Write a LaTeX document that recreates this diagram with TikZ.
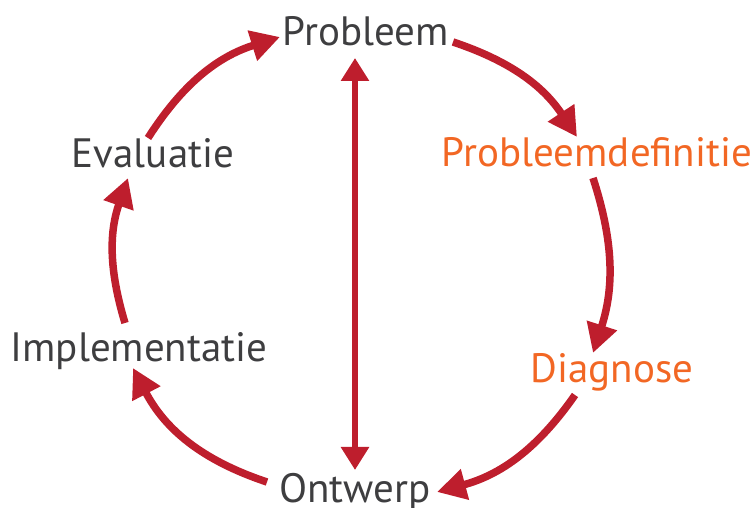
\documentclass[tikz,border=0pt]{standalone}
\usepackage{fontspec}
\setmainfont{PT Sans}
\usetikzlibrary{arrows.meta}
\definecolor{cred}{RGB}{190,30,45}
\definecolor{corange}{RGB}{242,103,36}
\definecolor{cgray}{RGB}{62,62,64}
\begin{document}
\begin{tikzpicture}[x=1pt,y=1pt,
  lbl/.style={font=\fontsize{41}{41}\selectfont, text=cgray, anchor=base, inner sep=0pt},
  olbl/.style={lbl, text=corange},
  cyc/.style={draw=cred, line width=7.5pt, -{Triangle[length=29pt,width=30pt]}},
  dbl/.style={draw=cred, line width=6.5pt, {Triangle[length=23pt,width=27pt]}-{Triangle[length=23pt,width=27pt]}}]
\useasboundingbox (0,0) rectangle (755,508);
\node[lbl] (prob) at (366,462) {Probleem};
\node[olbl] (pdef) at (597,341) {Probleemdefinitie};
\node[olbl] (diag) at (612,125) {Diagnose};
\node[lbl] (ontw) at (355,5) {Ontwerp};
\node[lbl] (impl) at (139,146) {Implementatie};
\node[lbl] (eval) at (153,340) {Evaluatie};
\coordinate (a1s) at (453,466); \coordinate (a1e) at (577,371);
\coordinate (a2s) at (593,330); \coordinate (a2e) at (593,155);
\coordinate (a3s) at (575,113); \coordinate (a3e) at (437,16);
\coordinate (a4s) at (267,26);  \coordinate (a4e) at (133,140);
\coordinate (a5s) at (125,185); \coordinate (a5e) at (128,330);
\coordinate (a6s) at (148,370); \coordinate (a6e) at (280,471);
\coordinate (vt) at (355,450); \coordinate (vb) at (355,38);
\draw[cyc] (a1s) to[bend left=19] (a1e);
\draw[cyc] (a2s) to[bend left=18] (a2e);
\draw[cyc] (a3s) to[bend left=20] (a3e);
\draw[cyc] (a4s) to[bend left=22] (a4e);
\draw[cyc] (a5s) to[bend left=18] (a5e);
\draw[cyc] (a6s) to[bend left=20] (a6e);
\draw[dbl] (vt) -- (vb);
\end{tikzpicture}
\end{document}
